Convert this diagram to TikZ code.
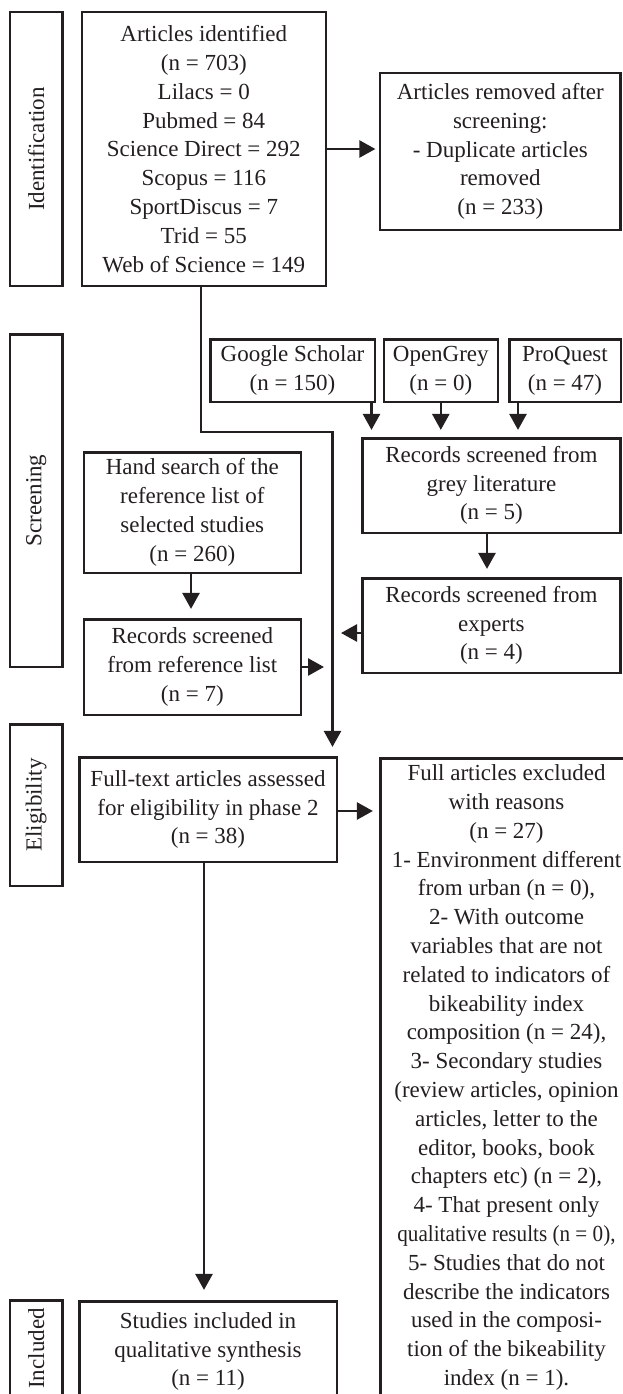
\documentclass[tikz,border=0pt]{standalone}
\usepackage{fontspec}
\setmainfont{Liberation Serif}
\usetikzlibrary{arrows.meta}
\definecolor{ink}{HTML}{231F20}
\begin{document}
\begin{tikzpicture}[x=1pt,y=-1pt,
  box/.style={draw=ink, line width=2.6pt, inner sep=0pt, align=center,
    font=\fontsize{23}{28.8}\selectfont, text=ink},
  arr/.style={draw=ink, line width=2.6pt, -{Triangle[length=16pt,width=17pt]}, shorten >=7pt}]
\clip (0,0) rectangle (623,1394);
% stage labels
\node[box, minimum width=52.5pt, minimum height=273.6pt] (idlab) at (36.2,149) {\rotatebox{90}{Identification}};
\node[box, minimum width=52.5pt, minimum height=332.6pt] (screenlab) at (36.2,500.5) {\rotatebox{90}{Screening}};
\node[box, minimum width=52.5pt, minimum height=161.6pt] (eliglab) at (36.2,805) {\rotatebox{90}{Eligibility}};
\node[box, minimum width=52.5pt, minimum height=96.6pt] (inclab) at (36.2,1348.5) {\rotatebox{90}{Included}};
% boxes
\node[box, minimum width=244pt, minimum height=273.6pt] (ident) at (203.8,149)
  {Articles identified\\(n = 703)\\Lilacs = 0\\Pubmed = 84\\Science Direct = 292\\Scopus = 116\\SportDiscus = 7\\Trid = 55\\Web of Science = 149};
\node[box, minimum width=240.3pt, minimum height=156.6pt] (removed) at (500.3,151.5)
  {Articles removed after\\screening:\\- Duplicate articles\\removed\\(n = 233)};
\node[box, minimum width=164.6pt, minimum height=62.6pt] (gs) at (292.5,370.5) {Google Scholar\\(n = 150)};
\node[box, minimum width=114pt, minimum height=62.6pt] (og) at (440.8,370.5) {OpenGrey\\(n = 0)};
\node[box, minimum width=111.6pt, minimum height=62.6pt] (pq) at (565,370.5) {ProQuest\\(n = 47)};
\node[box, minimum width=258.3pt, minimum height=94.6pt] (grey) at (491.4,485.5)
  {Records screened from\\grey literature\\(n = 5)};
\node[box, minimum width=258.3pt, minimum height=94.6pt] (experts) at (491.4,625.5)
  {Records screened from\\experts\\(n = 4)};
\node[box, minimum width=217pt, minimum height=120.6pt] (hand) at (192.3,512.5)
  {Hand search of the\\reference list of\\selected studies\\(n = 260)};
\node[box, minimum width=217pt, minimum height=95.6pt] (reflist) at (192.3,667)
  {Records screened\\from reference list\\(n = 7)};
\node[box, minimum width=257.6pt, minimum height=104.6pt] (full) at (208,809.5)
  {Full-text articles assessed\\for eligibility in phase 2\\(n = 38)};
\node[box, minimum width=252.6pt, minimum height=638.6pt] (excl) at (506.5,1077.5)
  {Full articles excluded\\with reasons\\(n = 27)\\1- Environment different\\from urban (n = 0),\\2- With outcome\\variables that are not\\related to indicators of\\bikeability index\\composition (n = 24),\\3- Secondary studies\\(review articles, opinion\\articles, letter to the\\editor, books, book\\chapters etc) (n = 2),\\4- That present only\\\scalebox{0.92}[1]{qualitative results (n = 0),}\\5- Studies that do not\\describe the indicators\\used in the composi-\\tion of the bikeability\\index (n = 1).};
\node[box, minimum width=257.6pt, minimum height=100.6pt] (incl) at (208,1351.5)
  {Studies included in\\qualitative synthesis\\(n = 11)};
% helper coordinates
\coordinate (j1) at (201,432);
\coordinate (j2) at (332.5,432);
\coordinate (xg) at (371.5,0);
\coordinate (xp) at (518,0);
\coordinate (xe) at (487,0);
\coordinate (xh) at (191,0);
\coordinate (xf) at (204,0);
\coordinate (m1) at (332.5,633);
\coordinate (m2) at (332.5,667);
\coordinate (m3) at (0,811);
% connectors
\draw[arr, shorten >=3.5pt] (ident.east) -- (ident.east -| removed.west);
\draw[arr, shorten >=9pt] (j1 |- ident.south) -- (j1) -- (j2) -- (j2 |- full.north);
\draw[arr] (xg |- gs.south) -- (xg |- grey.north);
\draw[arr] (og.south) -- (og.south |- grey.north);
\draw[arr] (xp |- pq.south) -- (xp |- grey.north);
\draw[arr, shorten >=8pt] (xe |- grey.south) -- (xe |- experts.north);
\draw[arr, shorten >=8.5pt] (m1 -| experts.west) -- (m1);
\draw[arr, shorten >=8.5pt] (m2 -| reflist.east) -- (m2);
\draw[arr, shorten >=9pt] (xh |- hand.south) -- (xh |- reflist.north);
\draw[arr, shorten >=6pt] (m3 -| full.east) -- (m3 -| excl.west);
\draw[arr, shorten >=10pt] (xf |- full.south) -- (xf |- incl.north);
\end{tikzpicture}
\end{document}
